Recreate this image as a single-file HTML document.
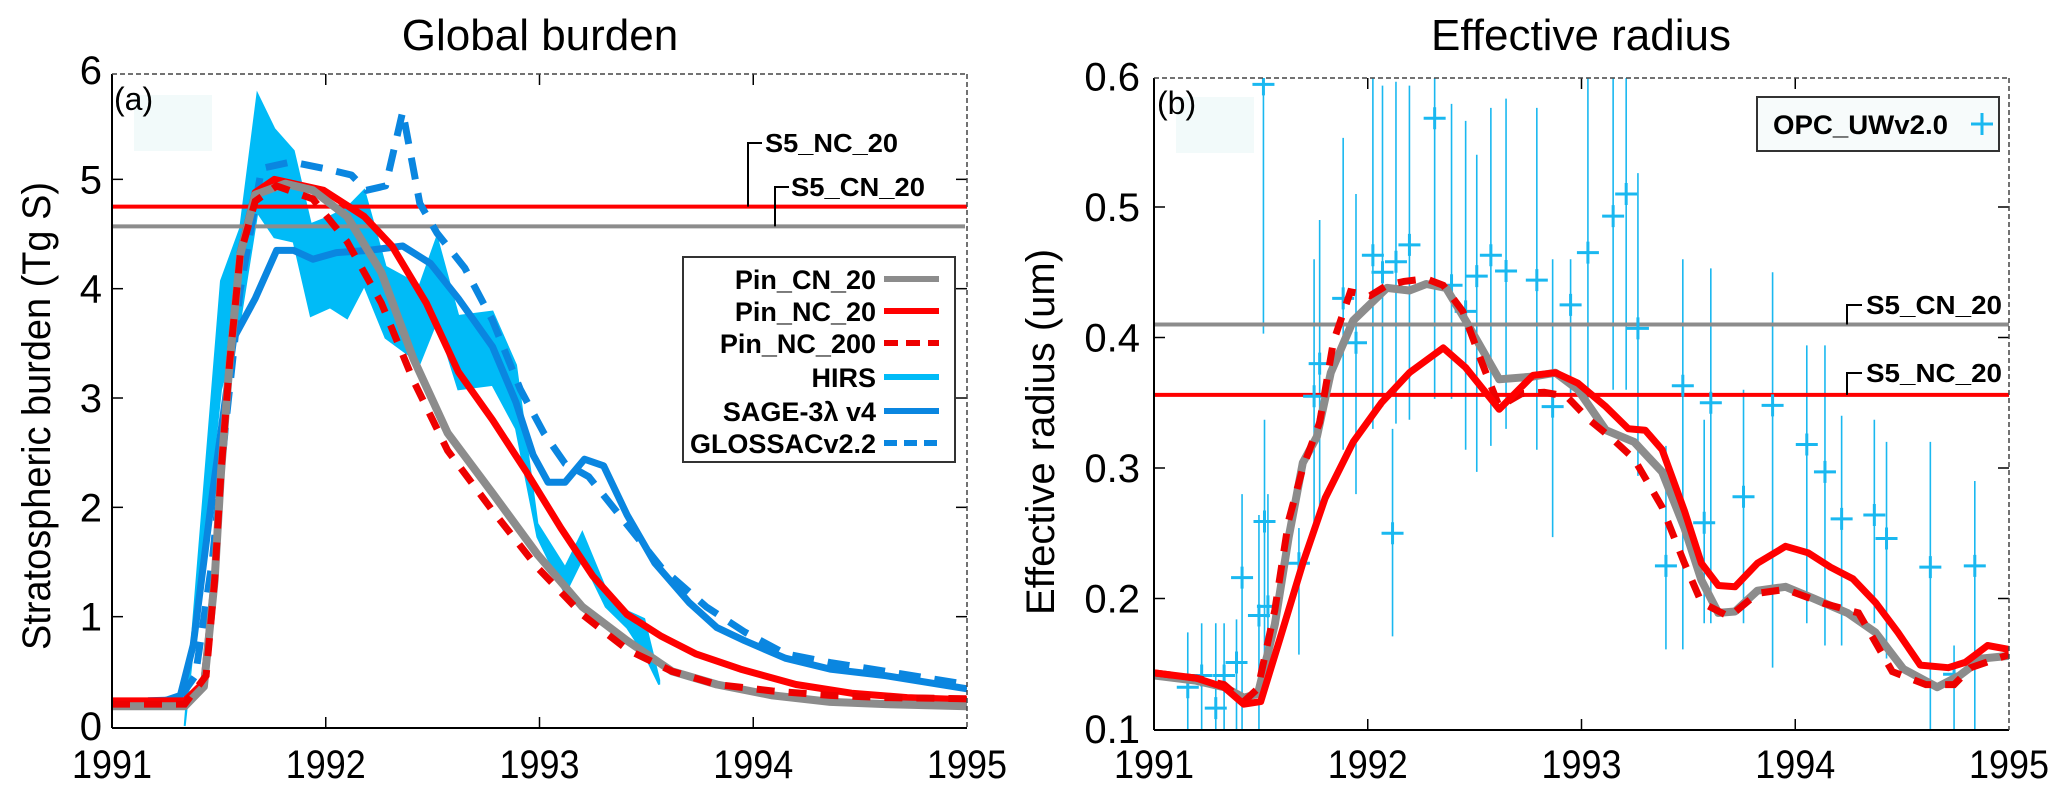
<!DOCTYPE html>
<html><head><meta charset="utf-8"><style>
html,body{margin:0;padding:0;background:#fff;}
svg{display:block;font-family:"Liberation Sans",sans-serif;}
</style></head><body>
<svg id="fig" width="2067" height="799" viewBox="0 0 2067 799" xmlns="http://www.w3.org/2000/svg">
<defs>
<clipPath id="clipL"><rect x="112" y="74" width="855" height="654"/></clipPath>
<clipPath id="clipR"><rect x="1154" y="78" width="855" height="652"/></clipPath>
</defs>
<g id="panelA"></g>
<g id="panelB"></g>
</svg>
<script>
// ---------- Panel (a) data ----------
const xTickYears = [1991, 1992, 1993, 1994, 1995];
const yTicksA = [0, 1, 2, 3, 4, 5, 6];
const yTicksB = [0.1, 0.2, 0.3, 0.4, 0.5, 0.6];
const yTickLabelsB = ["0.1","0.2","0.3","0.4","0.5","0.6"];

const cn20Years = [1991.00,1991.34,1991.43,1991.48,1991.51,1991.55,1991.60,1991.67,1991.81,1991.94,1992.10,1992.26,1992.41,1992.57,1992.78,1992.99,1993.20,1993.41,1993.62,1993.83,1994.09,1994.36,1994.62,1995.0];
const cn20Vals  = [0.18,0.18,0.36,1.33,2.32,3.32,4.31,4.86,4.96,4.90,4.66,4.15,3.36,2.68,2.13,1.57,1.09,0.78,0.50,0.38,0.28,0.22,0.20,0.18];

const nc20Years = [1991.00,1991.34,1991.43,1991.48,1991.51,1991.55,1991.60,1991.67,1991.76,1991.99,1992.18,1992.31,1992.47,1992.62,1992.78,1992.94,1993.10,1993.25,1993.41,1993.57,1993.73,1993.94,1994.20,1994.46,1994.72,1995.0];
const nc20Vals  = [0.23,0.23,0.40,1.35,2.35,3.35,4.33,4.88,5.00,4.90,4.66,4.39,3.87,3.24,2.80,2.32,1.81,1.37,1.02,0.82,0.66,0.52,0.38,0.30,0.26,0.24];

const nc200Years = [1991.00,1991.34,1991.44,1991.48,1991.51,1991.55,1991.60,1991.67,1991.77,1991.94,1992.10,1992.26,1992.41,1992.57,1992.78,1992.99,1993.20,1993.41,1993.62,1993.83,1994.09,1994.36,1994.62,1995.0];
const nc200Vals  = [0.20,0.20,0.46,1.33,2.32,3.32,4.31,4.80,4.94,4.82,4.43,3.87,3.16,2.52,1.97,1.45,1.02,0.70,0.50,0.38,0.32,0.28,0.26,0.25];

const sageYears = [1991.00,1991.23,1991.32,1991.38,1991.47,1991.57,1991.67,1991.77,1991.85,1991.94,1992.05,1992.20,1992.36,1992.49,1992.62,1992.78,1992.89,1992.97,1993.04,1993.12,1993.21,1993.30,1993.41,1993.54,1993.70,1993.83,1993.96,1994.15,1994.36,1994.62,1995.0];
const sageVals  = [0.22,0.22,0.28,0.74,2.13,3.55,3.91,4.35,4.35,4.27,4.33,4.35,4.39,4.23,3.91,3.47,2.96,2.48,2.23,2.23,2.44,2.38,1.93,1.49,1.13,0.90,0.78,0.62,0.52,0.46,0.34];

const glossacYears = [1991.00,1991.31,1991.39,1991.47,1991.53,1991.60,1991.70,1991.84,1991.99,1992.12,1992.19,1992.28,1992.36,1992.44,1992.52,1992.65,1992.78,1992.91,1993.02,1993.12,1993.23,1993.39,1993.57,1993.78,1993.96,1994.15,1994.36,1994.62,1995.0];
const glossacVals  = [0.22,0.24,0.46,1.53,2.72,3.99,5.10,5.16,5.10,5.04,4.90,4.94,5.62,4.78,4.51,4.19,3.71,3.08,2.68,2.40,2.28,1.89,1.45,1.09,0.86,0.66,0.58,0.50,0.38];

const hirsYears = [1991.34,1991.51,1991.60,1991.68,1991.76,1991.85,1991.93,1992.02,1992.10,1992.18,1992.28,1992.44,1992.52,1992.62,1992.78,1992.89,1992.99,1993.12,1993.20,1993.31,1993.41,1993.49,1993.56];
const hirsHigh  = [0.0,4.07,4.55,5.78,5.46,5.26,4.59,4.66,4.74,4.90,4.20,4.03,4.47,3.75,3.79,3.30,1.85,1.45,1.77,1.25,1.05,0.98,0.42];
const hirsLow   = [0.0,3.08,3.71,4.70,4.47,4.43,3.75,3.83,3.73,4.03,3.55,3.32,3.71,3.08,3.12,2.72,1.73,1.21,1.53,1.09,0.90,0.66,0.38];

const s5BurdenNC = 4.75;
const s5BurdenCN = 4.57;

// ---------- Panel (b) data ----------
const rCnYears = [1991.0,1991.197,1991.328,1991.420,1991.486,1991.565,1991.630,1991.696,1991.762,1991.827,1991.932,1992.090,1992.195,1992.274,1992.366,1992.458,1992.615,1992.773,1992.878,1992.983,1993.114,1993.246,1993.377,1993.482,1993.561,1993.640,1993.718,1993.823,1993.955,1994.086,1994.244,1994.375,1994.506,1994.664,1994.769,1994.874,1995.0];
const rCnVals  = [0.141,0.137,0.132,0.124,0.127,0.180,0.247,0.304,0.324,0.373,0.413,0.438,0.436,0.441,0.438,0.413,0.368,0.370,0.373,0.360,0.329,0.320,0.297,0.254,0.214,0.189,0.190,0.206,0.209,0.200,0.189,0.174,0.146,0.132,0.141,0.154,0.156];

const rNc200Years = [1991.0,1991.197,1991.328,1991.420,1991.486,1991.565,1991.630,1991.696,1991.775,1991.840,1991.919,1992.011,1992.090,1992.169,1992.274,1992.353,1992.445,1992.536,1992.615,1992.720,1992.825,1992.930,1993.035,1993.140,1993.246,1993.377,1993.482,1993.561,1993.692,1993.823,1993.955,1994.139,1994.296,1994.454,1994.611,1994.743,1994.821,1995.0];
const rNc200Vals  = [0.143,0.139,0.134,0.121,0.131,0.191,0.260,0.300,0.335,0.397,0.435,0.432,0.440,0.443,0.445,0.440,0.420,0.380,0.347,0.357,0.358,0.355,0.337,0.323,0.307,0.270,0.227,0.197,0.186,0.204,0.207,0.196,0.189,0.144,0.134,0.134,0.147,0.157];

const rNc20Years = [1991.0,1991.197,1991.328,1991.420,1991.499,1991.591,1991.696,1991.801,1991.932,1992.064,1992.195,1992.353,1992.458,1992.615,1992.773,1992.878,1992.983,1993.114,1993.219,1993.298,1993.377,1993.482,1993.561,1993.640,1993.718,1993.823,1993.955,1994.060,1994.165,1994.270,1994.375,1994.480,1994.585,1994.716,1994.795,1994.900,1995.0];
const rNc20Vals  = [0.143,0.139,0.132,0.119,0.121,0.170,0.227,0.277,0.320,0.350,0.373,0.392,0.377,0.345,0.371,0.373,0.365,0.347,0.330,0.329,0.314,0.267,0.227,0.210,0.209,0.227,0.240,0.235,0.224,0.215,0.197,0.174,0.149,0.147,0.151,0.164,0.161];

const opcYears = [1991.158,1991.223,1991.289,1991.328,1991.386,1991.412,1991.491,1991.512,1991.517,1991.533,1991.678,1991.749,1991.775,1991.885,1991.945,1992.024,1992.069,1992.116,1992.132,1992.195,1992.313,1992.392,1992.458,1992.510,1992.576,1992.647,1992.791,1992.865,1992.949,1993.030,1993.148,1993.209,1993.264,1993.395,1993.474,1993.574,1993.605,1993.758,1993.894,1994.054,1994.139,1994.217,1994.370,1994.427,1994.632,1994.743,1994.840];
const opcVals  = [0.132,0.141,0.116,0.141,0.151,0.216,0.187,0.594,0.259,0.194,0.227,0.355,0.380,0.430,0.396,0.463,0.450,0.250,0.458,0.471,0.568,0.440,0.420,0.447,0.463,0.451,0.444,0.347,0.425,0.465,0.493,0.510,0.407,0.225,0.363,0.258,0.350,0.278,0.348,0.318,0.297,0.261,0.264,0.246,0.224,0.142,0.225];
const opcHigh  = [0.174,0.181,0.181,0.181,0.184,0.280,0.264,0.599,0.337,0.280,0.254,0.460,0.490,0.553,0.510,0.599,0.593,0.330,0.596,0.593,0.599,0.579,0.566,0.540,0.576,0.583,0.576,0.460,0.460,0.599,0.599,0.599,0.526,0.317,0.460,0.337,0.453,0.360,0.450,0.394,0.394,0.340,0.337,0.320,0.320,0.164,0.290];
const opcLow   = [0.100,0.100,0.100,0.100,0.100,0.100,0.100,0.403,0.134,0.147,0.157,0.254,0.267,0.314,0.280,0.330,0.347,0.171,0.334,0.337,0.353,0.353,0.314,0.297,0.317,0.330,0.314,0.247,0.353,0.353,0.360,0.360,0.294,0.161,0.161,0.181,0.181,0.181,0.147,0.181,0.164,0.164,0.181,0.154,0.100,0.100,0.100];

const s5RadiusCN = 0.410;
const s5RadiusNC = 0.356;

// ---------- helpers ----------
const NS = "http://www.w3.org/2000/svg";
function mk(tag, attrs, parent){
  const e = document.createElementNS(NS, tag);
  for (const k in attrs) e.setAttribute(k, attrs[k]);
  parent.appendChild(e);
  return e;
}
const xA = y => 112 + (y - 1991) * 213.75;
const yA = v => 726 - v * 109.33;
const xB = y => 1154 + (y - 1991) * 213.75;
const yB = v => 729 - (v - 0.1) * 1305;
function pts(xs, vs, fx, fy){ return xs.map((x,i)=>fx(x).toFixed(1)+","+fy(vs[i]).toFixed(1)).join(" "); }

const A = document.getElementById("panelA");
const B = document.getElementById("panelB");

function frame(g, x0, x1, y0, y1, fx, fy, yt, ytl, labelRight){
  // ticks
  xTickYears.forEach((yr,i)=>{
    const X = fx(yr);
    if (i>0 && i<xTickYears.length-1){
      const t1 = mk("line",{x1:X,x2:X,y1:y1,y2:y1-11,stroke:"#000","stroke-width":1.5},g);
      
      
      const t2 = mk("line",{x1:X,x2:X,y1:y0,y2:y0+11,stroke:"#000","stroke-width":1.5},g);
      
      
    }
    const tl = mk("text",{x:X,y:778,"font-size":40,"text-anchor":"middle",textLength:80,lengthAdjust:"spacingAndGlyphs"},g);
    tl.textContent = String(yr);
    
    
  });
  yt.forEach((v,i)=>{
    const Y = fy(v);
    if (i>0 && i<yt.length-1){
      const t1 = mk("line",{x1:x0,x2:x0+11,y1:Y,y2:Y,stroke:"#000","stroke-width":1.5},g);
      
      
      const t2 = mk("line",{x1:x1,x2:x1-11,y1:Y,y2:Y,stroke:"#000","stroke-width":1.5},g);
      
      
    }
    const tl = mk("text",{x:labelRight,y:Y+14,"font-size":40,"text-anchor":"end"},g);
    tl.textContent = ytl[i];
    
    
  });
  const l = mk("line",{x1:x0,x2:x0,y1:y0,y2:y1,stroke:"#000","stroke-width":2},g);
  
  
  const b = mk("line",{x1:x0,x2:x1,y1:y1,y2:y1,stroke:"#000","stroke-width":2},g);
  
  
  const t = mk("line",{x1:x0,x2:x1,y1:y0,y2:y0,stroke:"#444","stroke-width":1.5,"stroke-dasharray":"5,3"},g);
  
  
  const r = mk("line",{x1:x1,x2:x1,y1:y0,y2:y1,stroke:"#444","stroke-width":1.5,"stroke-dasharray":"5,3"},g);
  
  
}

// ---------- Panel A ----------
(function(){
  const title = mk("text",{x:540,y:50,"font-size":44,"text-anchor":"middle"},A);
  title.textContent = "Global burden";
  
  
  const yl = mk("text",{x:0,y:0,"font-size":40,"text-anchor":"middle",transform:"translate(50,416) rotate(-90)",textLength:468,lengthAdjust:"spacingAndGlyphs"},A);
  yl.textContent = "Stratospheric burden  (Tg S)";
  
  

  const pl = mk("g",{"clip-path":"url(#clipL)"},A);
  
  
  const pale = mk("rect",{x:134,y:95,width:78,height:56,fill:"#f2fafa"},pl);
  
  

  const band = mk("polygon",{points: pts(hirsYears,hirsHigh,xA,yA)+" "+pts(hirsYears.slice().reverse(),hirsLow.slice().reverse(),xA,yA), fill:"#00bbf7", stroke:"#00bbf7","stroke-width":2},pl);
  
  

  const s1 = mk("line",{x1:112,x2:967,y1:yA(s5BurdenNC),y2:yA(s5BurdenNC),stroke:"#ff0000","stroke-width":4},pl);
  
  
  const s2 = mk("line",{x1:112,x2:965,y1:yA(s5BurdenCN),y2:yA(s5BurdenCN),stroke:"#8c8c8c","stroke-width":4},pl);
  
  

  const g1 = mk("polyline",{points:pts(glossacYears,glossacVals,xA,yA),fill:"none",stroke:"#0a86e0","stroke-width":7,"stroke-dasharray":"22,14","stroke-linejoin":"round"},pl);
  
  
  const g2 = mk("polyline",{points:pts(sageYears,sageVals,xA,yA),fill:"none",stroke:"#0a86e0","stroke-width":7,"stroke-linejoin":"round"},pl);
  
  
  const g3 = mk("polyline",{points:pts(nc20Years,nc20Vals,xA,yA),fill:"none",stroke:"#ff0000","stroke-width":7,"stroke-linejoin":"round"},pl);
  
  
  const g4 = mk("polyline",{points:pts(cn20Years,cn20Vals,xA,yA),fill:"none",stroke:"#8c8c8c","stroke-width":8,"stroke-linejoin":"round"},pl);
  
  
  const g5 = mk("polyline",{points:pts(nc200Years,nc200Vals,xA,yA),fill:"none",stroke:"#ee0000","stroke-width":7,"stroke-dasharray":"18,14"},pl);
  
  

  frame(A,112,967,74,728,xA,yA,yTicksA,yTicksA.map(String),102);

  const pa = mk("text",{x:114,y:110,"font-size":32},A);
  pa.textContent = "(a)";
  
  

  // annotations
  const b1 = mk("polyline",{points:`748,${yA(s5BurdenNC)} 748,143 762,143`,fill:"none",stroke:"#000","stroke-width":2},A);
  
  
  const a1 = mk("text",{x:765,y:152,"font-size":26,"font-weight":"bold",textLength:133,lengthAdjust:"spacingAndGlyphs"},A);
  a1.textContent = "S5_NC_20";
  
  
  const b2 = mk("polyline",{points:`775,${yA(s5BurdenCN)} 775,187 789,187`,fill:"none",stroke:"#000","stroke-width":2},A);
  
  
  const a2 = mk("text",{x:791,y:196,"font-size":26,"font-weight":"bold",textLength:134,lengthAdjust:"spacingAndGlyphs"},A);
  a2.textContent = "S5_CN_20";
  
  

  // legend
  const lg = mk("g",{},A);
  
  
  const box = mk("rect",{x:683,y:257,width:272,height:205,fill:"#fff",stroke:"#333","stroke-width":2},lg);
  
  
  const entries = [
    ["Pin_CN_20",279,"#8c8c8c",""],
    ["Pin_NC_20",311,"#ff0000",""],
    ["Pin_NC_200",343,"#ee0000","14,8"],
    ["HIRS",377,"#00bbf7",""],
    ["SAGE-3λ v4",411,"#0a86e0",""],
    ["GLOSSACv2.2",443,"#0a86e0","13,7"]
  ];
  entries.forEach(e=>{
    const t = mk("text",{x:876,y:e[1]+10,"font-size":27,"font-weight":"bold","text-anchor":"end"},lg);
    t.textContent = e[0];
    
    
    const l = mk("line",{x1:884,x2:939,y1:e[1],y2:e[1],stroke:e[2],"stroke-width":6},lg);
    if (e[3]) l.setAttribute("stroke-dasharray",e[3]);
    
    
  });
})();

// ---------- Panel B ----------
(function(){
  const title = mk("text",{x:1581,y:50,"font-size":44,"text-anchor":"middle"},B);
  title.textContent = "Effective radius";
  
  
  const yl = mk("text",{x:0,y:0,"font-size":40,"text-anchor":"middle",transform:"translate(1054,432) rotate(-90)"},B);
  yl.textContent = "Effective radius (um)";
  
  

  const pl = mk("g",{"clip-path":"url(#clipR)"},B);
  
  
  const pale = mk("rect",{x:1176,y:97,width:78,height:56,fill:"#f2fafa"},pl);
  
  

  opcYears.forEach((yr,i)=>{
    const X = xB(yr);
    const bar = mk("line",{x1:X,x2:X,y1:yB(opcHigh[i]),y2:yB(opcLow[i]),stroke:"#1ab8f0","stroke-width":1.6},pl);
    
    
  });
  const s1 = mk("line",{x1:1154,x2:2009,y1:yB(s5RadiusCN),y2:yB(s5RadiusCN),stroke:"#8c8c8c","stroke-width":4},pl);
  
  
  const s2 = mk("line",{x1:1154,x2:2009,y1:yB(s5RadiusNC),y2:yB(s5RadiusNC),stroke:"#ff0000","stroke-width":4},pl);
  
  
  opcYears.forEach((yr,i)=>{
    const X = xB(yr), Y = yB(opcVals[i]);
    const c = mk("path",{d:`M${X-11},${Y}H${X+11}M${X},${Y-11}V${Y+11}`,stroke:"#1ab8f0","stroke-width":3,fill:"none"},pl);
    
    
  });
  const g4 = mk("polyline",{points:pts(rCnYears,rCnVals,xB,yB),fill:"none",stroke:"#8c8c8c","stroke-width":8,"stroke-linejoin":"round"},pl);
  
  
  const g5 = mk("polyline",{points:pts(rNc200Years,rNc200Vals,xB,yB),fill:"none",stroke:"#ee0000","stroke-width":7,"stroke-dasharray":"18,14"},pl);
  
  
  const g3 = mk("polyline",{points:pts(rNc20Years,rNc20Vals,xB,yB),fill:"none",stroke:"#ff0000","stroke-width":7,"stroke-linejoin":"round"},pl);
  
  

  frame(B,1154,2009,78,730,xB,yB,yTicksB,yTickLabelsB,1140);

  const pb = mk("text",{x:1157,y:114,"font-size":32},B);
  pb.textContent = "(b)";
  
  

  const b1 = mk("polyline",{points:`1847,${yB(s5RadiusCN)} 1847,305 1862,305`,fill:"none",stroke:"#000","stroke-width":2},B);
  
  
  const a1 = mk("text",{x:1866,y:314,"font-size":26,"font-weight":"bold",textLength:136,lengthAdjust:"spacingAndGlyphs"},B);
  a1.textContent = "S5_CN_20";
  
  
  const b2 = mk("polyline",{points:`1847,${yB(s5RadiusNC)} 1847,373 1862,373`,fill:"none",stroke:"#000","stroke-width":2},B);
  
  
  const a2 = mk("text",{x:1866,y:382,"font-size":26,"font-weight":"bold",textLength:136,lengthAdjust:"spacingAndGlyphs"},B);
  a2.textContent = "S5_NC_20";
  
  

  const lg = mk("g",{},B);
  
  
  const box = mk("rect",{x:1757,y:97,width:242,height:54,fill:"#f7fbfb",stroke:"#333","stroke-width":2},lg);
  
  
  const t = mk("text",{x:1773,y:134,"font-size":27,"font-weight":"bold",textLength:175,lengthAdjust:"spacingAndGlyphs"},lg);
  t.textContent = "OPC_UWv2.0";
  
  
  const c = mk("path",{d:"M1971,124H1993M1982,113V135",stroke:"#1ab8f0","stroke-width":3},lg);
  
  
})();
</script>
</body></html>
